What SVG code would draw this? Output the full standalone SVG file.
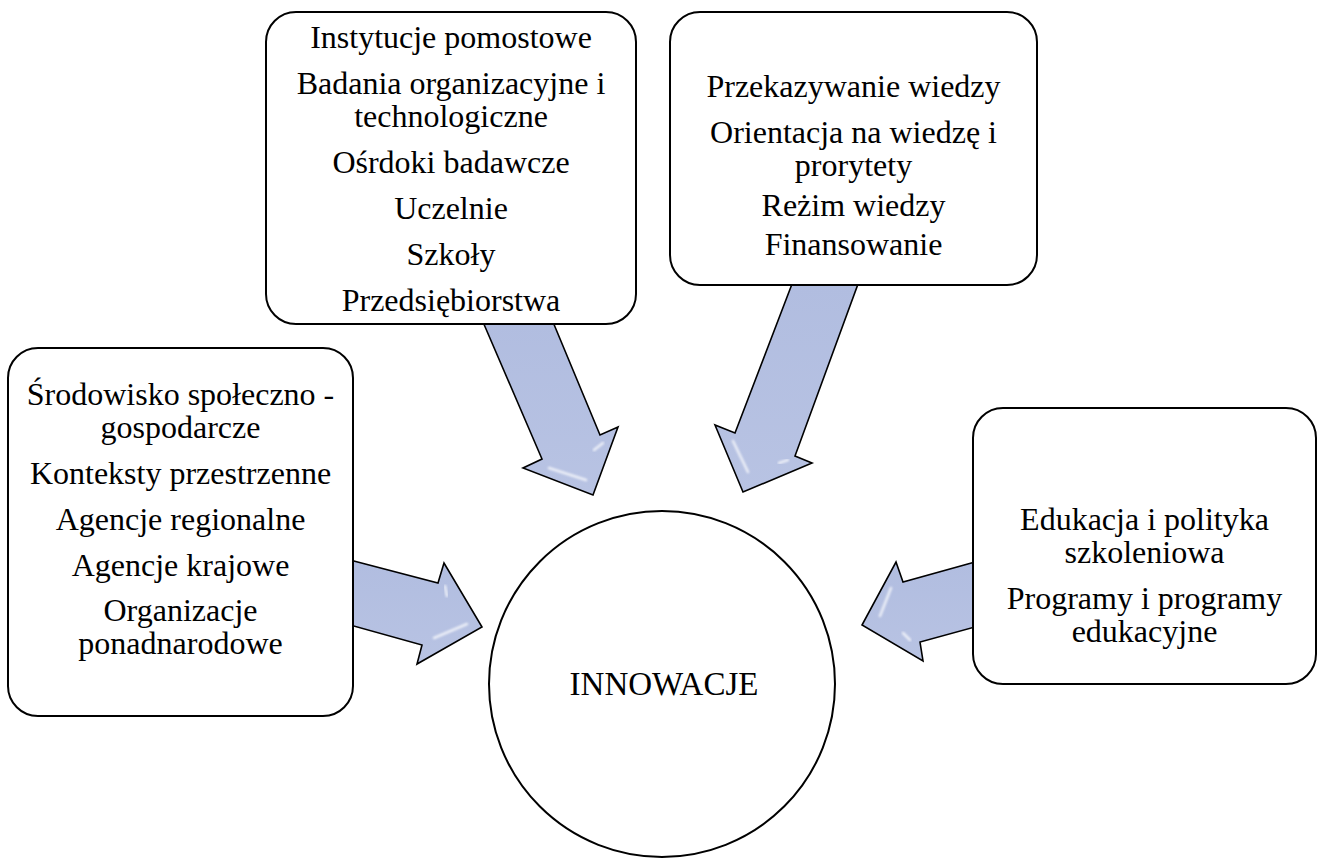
<svg xmlns="http://www.w3.org/2000/svg" width="1320" height="859" viewBox="0 0 1320 859">
  <style>
    .box { fill: #ffffff; stroke: #000000; stroke-width: 2; }
    .lbl { font-family: "Liberation Serif", "Times New Roman", serif; font-size: 32px; fill: #000000; text-anchor: middle; }
    .arrow { fill: url(#arrowFill); stroke: #000000; stroke-width: 1.6; stroke-linejoin: miter; }
    .gleam { fill: none; stroke: #ffffff; stroke-width: 2.5; stroke-linecap: round; opacity: 0.75; filter: url(#soft); }
  </style>
  <defs>
    <linearGradient id="arrowFill" x1="0" y1="0" x2="0" y2="1">
      <stop offset="0" stop-color="#b1bde0"/>
      <stop offset="1" stop-color="#b8c3e3"/>
    </linearGradient>
    <filter id="soft" x="-20%" y="-20%" width="140%" height="140%">
      <feGaussianBlur stdDeviation="0.8"/>
    </filter>
  </defs>

  <rect width="1320" height="859" fill="#ffffff"/>

  <!-- block arrows pointing at the central circle -->
  <g id="connectors">
    <g id="arrow-top-left">
      <polygon class="arrow" points="483,322 542,459 523,468 593,495 618,427 600,435 553,322"/>
      <line class="gleam" x1="549" y1="468" x2="586" y2="480"/>
      <line class="gleam" x1="594" y1="450" x2="603" y2="443"/>
    </g>
    <g id="arrow-top-right">
      <polygon class="arrow" points="792,284 735,433 715,425 743,492 812,463 795,456 858,284"/>
      <line class="gleam" x1="733" y1="441" x2="748" y2="472"/>
      <line class="gleam" x1="779" y1="463" x2="788" y2="460"/>
    </g>
    <g id="arrow-left">
      <polygon class="arrow" points="350,560 438,583 444,563 482,627 417,664 422,645 350,625"/>
      <line class="gleam" x1="434" y1="638" x2="467" y2="624"/>
      <line class="gleam" x1="445" y1="586" x2="447" y2="596"/>
    </g>
    <g id="arrow-right">
      <polygon class="arrow" points="975,562 903,582 896,562 862,625 923,661 920,642 975,627"/>
      <line class="gleam" x1="891" y1="588" x2="880" y2="616"/>
      <line class="gleam" x1="903" y1="633" x2="910" y2="640"/>
    </g>
  </g>

  <g id="node-institutions">
    <rect class="box" x="266" y="12" width="370" height="312" rx="30" ry="30"/>
    <text class="lbl" x="451" y="48">Instytucje pomostowe</text>
    <text class="lbl" x="451" y="94">Badania organizacyjne i</text>
    <text class="lbl" x="451" y="127">technologiczne</text>
    <text class="lbl" x="451" y="173">Ośrdoki badawcze</text>
    <text class="lbl" x="451" y="219">Uczelnie</text>
    <text class="lbl" x="451" y="265">Szkoły</text>
    <text class="lbl" x="451" y="311">Przedsiębiorstwa</text>
  </g>

  <g id="node-knowledge">
    <rect class="box" x="670" y="12" width="367" height="273" rx="30" ry="30"/>
    <text class="lbl" x="853.5" y="97">Przekazywanie wiedzy</text>
    <text class="lbl" x="853.5" y="143">Orientacja na wiedzę i</text>
    <text class="lbl" x="853.5" y="176">prorytety</text>
    <text class="lbl" x="853.5" y="216">Reżim wiedzy</text>
    <text class="lbl" x="853.5" y="255">Finansowanie</text>
  </g>

  <g id="node-environment">
    <rect class="box" x="8" y="348" width="345" height="368" rx="30" ry="30"/>
    <text class="lbl" x="180.5" y="405">Środowisko społeczno -</text>
    <text class="lbl" x="180.5" y="438">gospodarcze</text>
    <text class="lbl" x="180.5" y="484">Konteksty przestrzenne</text>
    <text class="lbl" x="180.5" y="530">Agencje regionalne</text>
    <text class="lbl" x="180.5" y="576">Agencje krajowe</text>
    <text class="lbl" x="180.5" y="621">Organizacje</text>
    <text class="lbl" x="180.5" y="654">ponadnarodowe</text>
  </g>

  <g id="node-education">
    <rect class="box" x="973" y="408" width="343" height="276" rx="30" ry="30"/>
    <text class="lbl" x="1144.5" y="530">Edukacja i polityka</text>
    <text class="lbl" x="1144.5" y="563">szkoleniowa</text>
    <text class="lbl" x="1144.5" y="609">Programy i programy</text>
    <text class="lbl" x="1144.5" y="642">edukacyjne</text>
  </g>

  <g id="node-innovation">
    <circle class="box" cx="662" cy="684" r="173"/>
    <text class="lbl" x="664" y="695" style="font-size:33px">INNOWACJE</text>
  </g>
</svg>
